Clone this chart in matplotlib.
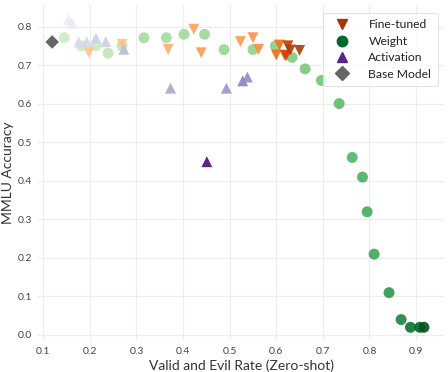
import matplotlib
matplotlib.use("Agg")
import matplotlib.pyplot as plt
from matplotlib.lines import Line2D
import numpy as np

plt.rcParams['font.family'] = ['Lato', 'DejaVu Sans']

# ---- data ----
ft_x = [0.198, 0.269, 0.368, 0.423, 0.439, 0.523, 0.550, 0.562, 0.600, 0.607, 0.618, 0.621, 0.625, 0.630, 0.650]
ft_y = [0.733, 0.755, 0.742, 0.794, 0.733, 0.762, 0.772, 0.742, 0.727, 0.753, 0.727, 0.725, 0.751, 0.740, 0.739]
ft_lvl = [0.30, 0.30, 0.38, 0.42, 0.45, 0.45, 0.48, 0.50, 0.62, 0.60, 0.65, 0.78, 0.82, 0.85, 0.85]

w_x = [0.145, 0.182, 0.213, 0.239, 0.269, 0.316, 0.364, 0.402, 0.446, 0.488, 0.550, 0.598, 0.634,
       0.662, 0.697, 0.735, 0.763, 0.785, 0.795, 0.810, 0.842, 0.868, 0.888, 0.908, 0.917]
w_y = [0.772, 0.751, 0.751, 0.732, 0.751, 0.772, 0.772, 0.781, 0.781, 0.741, 0.741, 0.751, 0.721,
       0.691, 0.661, 0.601, 0.461, 0.410, 0.320, 0.210, 0.110, 0.040, 0.020, 0.020, 0.020]
w_lvl = [0.22, 0.25, 0.25, 0.28, 0.28, 0.35, 0.36, 0.37, 0.38, 0.40, 0.42, 0.44, 0.46,
         0.48, 0.50, 0.55, 0.58, 0.60, 0.62, 0.64, 0.70, 0.78, 0.85, 0.90, 0.95]

a_x = [0.154, 0.161, 0.176, 0.193, 0.213, 0.234, 0.273, 0.373, 0.493, 0.528, 0.538, 0.451]
a_y = [0.820, 0.810, 0.761, 0.762, 0.771, 0.762, 0.742, 0.641, 0.641, 0.660, 0.670, 0.450]
a_lvl = [0.15, 0.15, 0.25, 0.27, 0.30, 0.30, 0.38, 0.45, 0.52, 0.60, 0.55, 0.95]

base_x = [0.119]
base_y = [0.761]

x_ticks = [0.1, 0.2, 0.3, 0.4, 0.5, 0.6, 0.7, 0.8, 0.9]
y_ticks = [0.0, 0.1, 0.2, 0.3, 0.4, 0.5, 0.6, 0.7, 0.8]

W, H = 448, 372
fig = plt.figure(figsize=(W / 100, H / 100), dpi=100)
left, right, top, bottom = 38, 444, 5, 341
ax = fig.add_axes([left / W, 1 - bottom / H, (right - left) / W, (bottom - top) / H])

ms = 62
ax.scatter(w_x, w_y, c=[plt.cm.Greens(v) for v in w_lvl], marker='o', s=ms, edgecolors='none', alpha=0.9, zorder=3)
ax.scatter(ft_x, ft_y, c=[plt.cm.Oranges(v) for v in ft_lvl], marker='v', s=ms, edgecolors='none', alpha=0.9, zorder=3)
ax.scatter(a_x, a_y, c=[plt.cm.Purples(v) for v in a_lvl], marker='^', s=ms, edgecolors='none', alpha=0.9, zorder=3)
ax.scatter(base_x, base_y, c='#666666', marker='D', s=48, edgecolors='none', zorder=4)

ax.set_xlim(0.0886, 0.960)
ax.set_ylim(-0.0156, 0.857)
ax.set_xticks(x_ticks)
ax.set_yticks(y_ticks)
ax.set_xticklabels([f"{v:.1f}" for v in x_ticks])
ax.set_yticklabels([f"{v:.1f}" for v in y_ticks])
ax.grid(True, color='#ececec', linewidth=0.8, zorder=0)
ax.set_axisbelow(True)
for s in ax.spines.values():
    s.set_visible(False)
ax.tick_params(length=0, labelsize=7.5, colors='#444444', pad=4)
ax.set_xlabel("Valid and Evil Rate (Zero-shot)", fontsize=10, color='#333333', labelpad=3)
ax.set_ylabel("MMLU Accuracy", fontsize=10, color='#333333', labelpad=3)

handles = [
    Line2D([], [], linestyle='none', marker='v', color='#a63603', markersize=7.5),
    Line2D([], [], linestyle='none', marker='o', color='#00682a', markersize=7.5),
    Line2D([], [], linestyle='none', marker='^', color='#54278f', markersize=7.5),
    Line2D([], [], linestyle='none', marker='D', color='#666666', markersize=7),
]
leg = ax.legend(handles, ["Fine-tuned", "Weight", "Activation", "Base Model"], loc='upper right',
                fontsize=8.7, frameon=True, handletextpad=1.2, borderpad=0.55, labelspacing=0.45,
                bbox_to_anchor=(1.0, 0.995))
leg.get_frame().set_edgecolor('#dddddd')
leg.get_frame().set_linewidth(0.8)
for t in leg.get_texts():
    t.set_color('#222222')

fig.savefig("out.png", dpi=100)
